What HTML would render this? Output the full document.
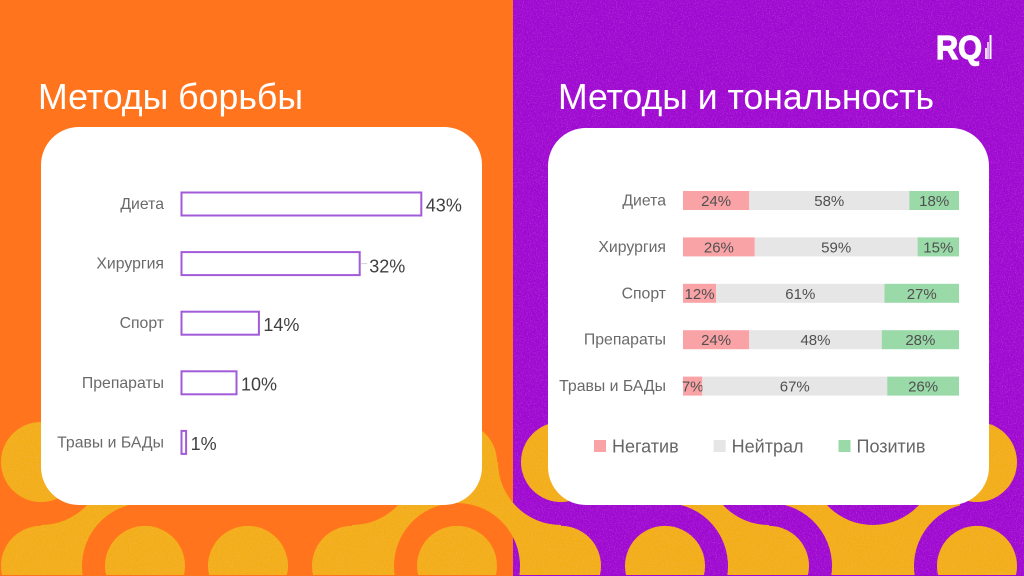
<!DOCTYPE html>
<html lang="ru">
<head>
<meta charset="utf-8">
<title>Методы борьбы</title>
<style>
html,body{margin:0;padding:0;background:#fff;overflow:hidden;width:1024px;height:576px}
#slide{display:block;width:1024px;height:576px;font-family:"Liberation Sans","DejaVu Sans",sans-serif}
</style>
</head>
<body>
<svg id="slide" xmlns="http://www.w3.org/2000/svg" width="1024" height="576" viewBox="0 0 1024 576">
  <defs>
    <clipPath id="clip-left"><rect x="0" y="0" width="513" height="576"/></clipPath>
    <clipPath id="clip-right"><rect x="513" y="0" width="511" height="576"/></clipPath>
    <filter id="gold-grain" filterUnits="userSpaceOnUse" x="0" y="0" width="1024" height="576">
      <feTurbulence type="fractalNoise" baseFrequency="0.85" numOctaves="2" seed="4" result="n"/>
      <feColorMatrix in="n" type="matrix" values="0 0 0 0 0.95  0 0 0 0 0.45  0 0 0 0 0.05  0 0 0 2.2 -0.95" result="c"/>
      <feComposite in="c" in2="SourceAlpha" operator="in" result="g"/>
      <feMerge><feMergeNode in="SourceGraphic"/><feMergeNode in="g"/></feMerge>
    </filter>
    <filter id="purple-grain" filterUnits="userSpaceOnUse" x="0" y="0" width="1024" height="576">
      <feTurbulence type="fractalNoise" baseFrequency="0.85" numOctaves="2" seed="9" result="n"/>
      <feColorMatrix in="n" type="matrix" values="0 0 0 0 0.7  0 0 0 0 0.05  0 0 0 0 0.8  0 0 0 1.6 -0.8" result="c"/>
      <feComposite in="c" in2="SourceAlpha" operator="in" result="g"/>
      <feMerge><feMergeNode in="SourceGraphic"/><feMergeNode in="g"/></feMerge>
    </filter>
  </defs>

  <g id="background">
    <rect x="0" y="0" width="513" height="576" fill="#FF741C"/>
    <rect x="513" y="0" width="511" height="576" fill="#9C0AD0" filter="url(#purple-grain)"/>

    <g fill="#F2AE18" filter="url(#gold-grain)">
      <rect x="41" y="503" width="104" height="73"/>
      <rect x="352" y="503" width="209" height="73"/>
      <rect x="457" y="462" width="104" height="41"/>
      <rect x="665" y="503" width="295" height="73"/>
    </g>

    <g fill="#FF741C" clip-path="url(#clip-left)">
      <circle cx="41" cy="462" r="63"/>
      <path d="M82.8 576 A63 63 0 1 1 207.2 576 Z"/>
      <circle cx="352" cy="462" r="63"/>
      <path d="M394.8 576 A63 63 0 1 1 519.2 576 Z"/>
      <circle cx="561" cy="462" r="63"/>
    </g>
    <g clip-path="url(#clip-right)">
      <g fill="#9C0AD0" filter="url(#purple-grain)">
        <path d="M394.8 576 A63 63 0 1 1 519.2 576 Z"/>
        <circle cx="561" cy="462" r="63"/>
        <path d="M602.8 576 A63 63 0 1 1 727.2 576 Z"/>
        <path d="M769 399 L769 525 A63 63 0 0 1 706 462 A63 63 0 0 1 769 399 Z"/>
        <path d="M769 503 A63 63 0 0 1 831.2 576 L769 576 Z"/>
        <circle cx="873" cy="462" r="63"/>
        <path d="M914.8 576 A63 63 0 1 1 1039.2 576 Z"/>
      </g>
    </g>

    <g fill="#F2AE18" filter="url(#gold-grain)">
      <circle cx="41" cy="462" r="40"/>
      <path d="M2.3 576 A40 40 0 1 1 79.7 576 Z"/>
      <path d="M106.3 576 A40 40 0 1 1 183.7 576 Z"/>
      <path d="M209.3 576 A40 40 0 1 1 286.7 576 Z"/>
      <path d="M313.3 576 A40 40 0 1 1 390.7 576 Z"/>
      <path d="M418.3 576 A40 40 0 1 1 495.7 576 Z"/>
      <circle cx="457" cy="462" r="40"/>
      <circle cx="561" cy="462" r="40"/>
      <path d="M522.3 576 A40 40 0 1 1 599.7 576 Z"/>
      <path d="M626.3 576 A40 40 0 1 1 703.7 576 Z"/>
      <path d="M730.3 576 A40 40 0 1 1 807.7 576 Z"/>
      <path d="M938.3 576 A40 40 0 1 1 1015.7 576 Z"/>
      <circle cx="977" cy="462" r="40"/>
    </g>

    <rect x="0" y="575" width="513" height="1" fill="#FF741C"/>
    <rect x="513" y="575" width="511" height="1" fill="#9C0AD0"/>
  </g>

  <text x="38" y="109" font-size="36" fill="#ffffff" textLength="265" lengthAdjust="spacingAndGlyphs">Методы борьбы</text>
  <text x="558" y="109" font-size="36" fill="#ffffff" textLength="376" lengthAdjust="spacingAndGlyphs">Методы и тональность</text>

  <g>
    <text x="936" y="59" font-size="33" font-weight="700" fill="#ffffff" stroke="#ffffff" stroke-width="1.2" textLength="46" lengthAdjust="spacingAndGlyphs">RQ</text>
    <rect x="985" y="48" width="2" height="11" fill="#f0d8fa"/>
    <rect x="987" y="42" width="2" height="17" fill="#e2b8f4"/>
    <rect x="989.5" y="35" width="2" height="24" fill="#ffffff"/>
  </g>

  <rect x="41" y="127" width="441" height="378" rx="38" ry="38" fill="#ffffff"/>
  <rect x="548" y="128" width="441" height="377" rx="38" ry="38" fill="#ffffff"/>

  <g id="left-chart"></g>
  <g id="right-chart"></g>
  <g id="legend"></g>
</svg>

<script>
const categories = ['Диета', 'Хирургия', 'Спорт', 'Препараты', 'Травы и БАДы'];
const methodShares = [43, 32, 14, 10, 1];
const leaderCategories = ['Хирургия'];
const negativeShares = [24, 26, 12, 24, 7];
const neutralShares = [58, 59, 61, 48, 67];
const positiveShares = [18, 15, 27, 28, 26];
const seriesNames = ['Негатив', 'Нейтрал', 'Позитив'];

const NS = 'http://www.w3.org/2000/svg';
function make(parent, tag, attrs, content) {
  const el = document.createElementNS(NS, tag);
  for (const key in attrs) el.setAttribute(key, attrs[key]);
  if (content !== undefined) el.textContent = content;
  parent.appendChild(el);
  return el;
}

/* left chart axes */
const leftChart = document.getElementById('left-chart');
const leftX = v => 181 + v * 5.6;
const leftY = i => 192 + i * 59.6;
const leftBarHeight = 24;

categories.forEach((name, i) => {
  const rowCentre = leftY(i) + leftBarHeight / 2;

  const label = make(leftChart, 'text', {x: 164, y: rowCentre + 5, 'text-anchor': 'end', 'font-size': 15.8, fill: '#6a6a6a'}, name);
  
  

  const bar = make(leftChart, 'rect', {
    x: leftX(0) + 0.5,
    y: leftY(i) + 0.5,
    width: Math.max(leftX(methodShares[i]) - leftX(0) - 1, 1),
    height: leftBarHeight - 1,
    fill: '#ffffff',
    stroke: '#A25BD8',
    'stroke-width': 2
  });
  
  

  const end = leftX(methodShares[i]);
  const hasLeader = leaderCategories.includes(name);
  if (hasLeader) {
    const leader = make(leftChart, 'line', {x1: end + 1, x2: end + 7, y1: rowCentre, y2: rowCentre, stroke: '#cfcfcf', 'stroke-width': 1});
    
    
  }

  const value = make(leftChart, 'text', {
    x: end + (hasLeader ? 9 : 4),
    y: rowCentre + (hasLeader ? 9 : 7.6),
    'font-size': 18,
    fill: '#404040'
  }, methodShares[i] + '%');
  
  
});

/* right chart axes */
const rightChart = document.getElementById('right-chart');
const rightX = v => 683 + v * 2.76;
const rightY = i => 191 + i * 46.4;
const rightBarHeight = 19;
const segmentColors = ['#F9A3A6', '#E6E6E6', '#9AD9A8'];
const stackedSeries = [negativeShares, neutralShares, positiveShares];

categories.forEach((name, i) => {
  const rowCentre = rightY(i) + rightBarHeight / 2;

  const label = make(rightChart, 'text', {x: 666, y: rowCentre + 5, 'text-anchor': 'end', 'font-size': 15.8, fill: '#6a6a6a'}, name);
  
  

  let cumulative = 0;
  stackedSeries.forEach((series, s) => {
    const start = cumulative;
    cumulative += series[i];

    const segment = make(rightChart, 'rect', {
      x: rightX(start),
      y: rightY(i),
      width: rightX(cumulative) - rightX(start),
      height: rightBarHeight,
      fill: segmentColors[s]
    });
    
    

    const value = make(rightChart, 'text', {
      x: (rightX(start) + rightX(cumulative)) / 2,
      y: rowCentre + 5.5,
      'text-anchor': 'middle',
      'font-size': 15,
      fill: '#505050'
    }, series[i] + '%');
    
    
  });
});

/* legend: entries flow left to right, spaced by their measured text width */
const legend = document.getElementById('legend');
let legendCursor = 594;
seriesNames.forEach((name, s) => {
  const swatch = make(legend, 'rect', {x: legendCursor, y: 440, width: 12, height: 12, fill: segmentColors[s]});
  
  

  const text = make(legend, 'text', {x: legendCursor + 18, y: 452.5, 'font-size': 18, fill: '#666666'}, name);
  
  

  legendCursor += 18 + text.getComputedTextLength() + 35;
});
</script>
</body>
</html>
